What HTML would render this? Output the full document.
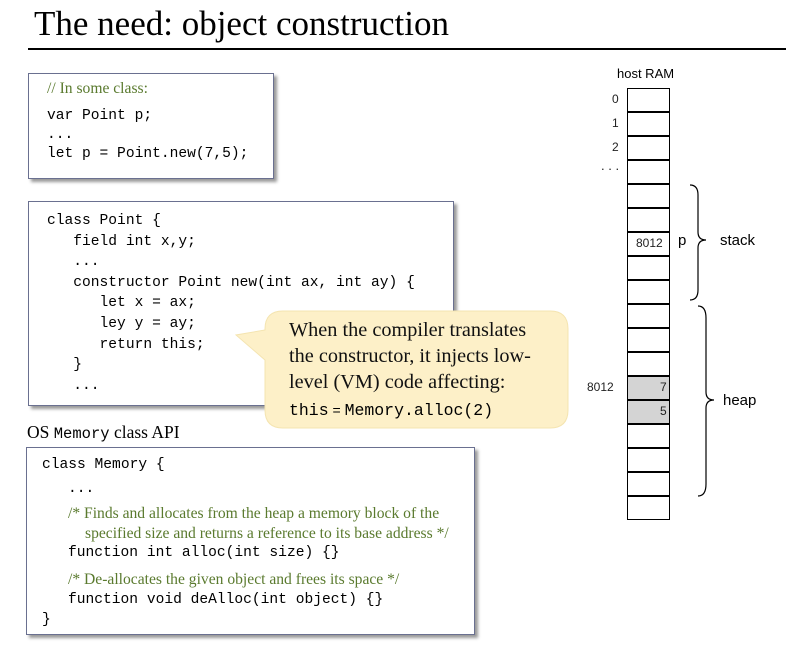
<!DOCTYPE html>
<html><head><meta charset="utf-8"><style>
body{margin:0;width:786px;height:650px;background:#fff;position:relative;overflow:hidden;font-family:"Liberation Sans",sans-serif}
.a{position:absolute;white-space:pre}
.m{font-family:"Liberation Mono",monospace;font-size:14.6px;color:#000}
.c{font-family:"Liberation Serif",serif;font-size:15.6px;color:#5a7a2e}
.box{position:absolute;border:1.5px solid #6a7090;box-shadow:3px 3px 3px #999;background:#fff}
.cell{position:absolute;left:627px;width:43px;height:24px;border:1px solid #000;box-sizing:border-box;background:#fff}
.r{font-size:12px;color:#222}
</style></head><body>
<div class="a" style="left:34px;top:4px;font-family:'Liberation Serif',serif;font-size:35px">The need: object construction</div>
<div style="position:absolute;left:28px;top:48px;width:758px;height:2px;background:#000"></div>

<div class="box" style="left:28px;top:73px;width:244px;height:104px"></div>
<div class="a c" style="left:47px;top:80px">// In some class:</div>
<div class="a m" style="left:47px;top:107px;line-height:19px">var Point p;
...
let p = Point.new(7,5);</div>

<div class="box" style="left:28px;top:201px;width:424px;height:203px"></div>
<div class="a m" style="left:47px;top:211px;line-height:20.6px">class Point {
   field int x,y;
   ...
   constructor Point new(int ax, int ay) {
      let x = ax;
      ley y = ay;
      return this;
   }
   ...</div>

<svg style="position:absolute;left:0;top:0" width="786" height="650">
<path d="M290 311 H550 Q568 311 568 329 V410 Q568 428 550 428 H283 Q265 428 265 410 V360 L236 335 L265 330 V329 Q265 311 283 311 Z" fill="#fdf0c8" stroke="#f4e4b0"/>
<path d="M690 185 Q698 185 698 195 V232 Q698 240 706 240 Q698 240 698 248 V290 Q698 300 690 300" fill="none" stroke="#000" stroke-width="1.2"/>
<path d="M698 306 Q706 306 706 318 V392 Q706 400 714 400 Q706 400 706 408 V484 Q706 496 698 496" fill="none" stroke="#000" stroke-width="1.2"/>
</svg>
<div class="a" style="left:289px;top:317px;font-family:'Liberation Serif',serif;font-size:20.3px;line-height:26px;color:#111">When the compiler translates
the constructor, it injects low-
level (VM) code affecting:</div>
<div class="a m" style="left:289px;top:401px;font-size:16.5px">this<span style="font-family:'Liberation Sans',sans-serif;font-size:14px"> = </span>Memory.alloc(2)</div>

<div class="a" style="left:27px;top:422px;font-family:'Liberation Serif',serif;font-size:17.5px">OS <span style="font-family:'Liberation Mono',monospace;font-size:15.5px">Memory</span> class API</div>
<div class="box" style="left:26px;top:447px;width:447px;height:186px"></div>
<div class="a m" style="left:42px;top:457px">class Memory {</div>
<div class="a m" style="left:68px;top:481px">...</div>
<div class="a c" style="left:68px;top:505px">/* Finds and allocates from the heap a memory block of the</div>
<div class="a c" style="left:85px;top:525px">specified size and returns a reference to its base address */</div>
<div class="a m" style="left:68px;top:545px">function int alloc(int size) {}</div>
<div class="a c" style="left:68px;top:571px">/* De-allocates the given object and frees its space */</div>
<div class="a m" style="left:68px;top:592px">function void deAlloc(int object) {}</div>
<div class="a m" style="left:42px;top:612px">}</div>

<div class="a" style="left:617px;top:66px;font-size:13px">host RAM</div>
<div class="cell" style="top:88px"></div><div class="cell" style="top:112px"></div>
<div class="cell" style="top:136px"></div><div class="cell" style="top:160px"></div>
<div class="cell" style="top:184px"></div><div class="cell" style="top:208px"></div>
<div class="cell" style="top:232px"></div><div class="cell" style="top:256px"></div>
<div class="cell" style="top:280px"></div><div class="cell" style="top:304px"></div>
<div class="cell" style="top:328px"></div><div class="cell" style="top:352px"></div>
<div class="cell" style="top:376px;background:#d4d4d4"></div><div class="cell" style="top:400px;background:#d4d4d4"></div>
<div class="cell" style="top:424px"></div><div class="cell" style="top:448px"></div>
<div class="cell" style="top:472px"></div><div class="cell" style="top:496px"></div>
<div class="a r" style="left:612px;top:92px">0</div>
<div class="a r" style="left:612px;top:116px">1</div>
<div class="a r" style="left:612px;top:140px">2</div>
<div class="a r" style="left:601px;top:158px;font-size:13px">. . .</div>
<div class="a r" style="left:636px;top:236px">8012</div>
<div class="a" style="left:678px;top:232px;font-size:15px">p</div>
<div class="a" style="left:720px;top:232px;font-size:15px">stack</div>
<div class="a r" style="left:587px;top:380px">8012</div>
<div class="a r" style="left:660px;top:380px">7</div>
<div class="a r" style="left:660px;top:404px">5</div>
<div class="a" style="left:723px;top:392px;font-size:15px">heap</div>
</body></html>
